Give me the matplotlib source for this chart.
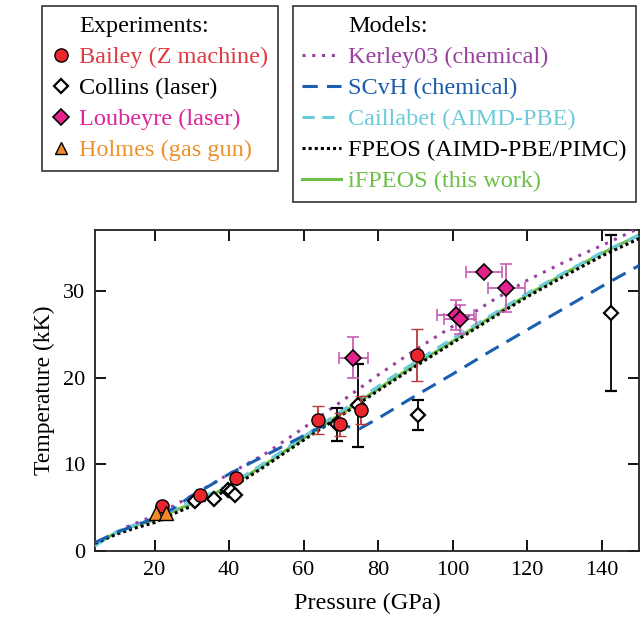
import matplotlib
matplotlib.use("Agg")
import matplotlib.pyplot as plt
from matplotlib.lines import Line2D

plt.rcParams['font.family'] = ['Liberation Serif', 'DejaVu Serif']
plt.rcParams['font.size'] = 16

# --- experimental Hugoniot data (pressure GPa, temperature kK) ---
bailey_P = [22.0, 32.3, 41.8, 63.8, 69.8, 75.3, 90.4]
bailey_T = [5.2, 6.5, 8.4, 15.1, 14.6, 16.3, 22.6]
bailey_Terr = [0.0, 0.0, 0.0, 1.6, 1.3, 1.6, 3.0]

collins_P = [30.9, 36.0, 39.6, 40.5, 41.7, 69.0, 74.6, 90.6, 142.6]
collins_T = [5.8, 6.0, 7.0, 6.9, 6.5, 14.6, 16.8, 15.7, 27.4]
collins_Terr = [0.0, 0.0, 0.0, 0.0, 0.0, 1.9, 4.8, 1.7, 9.0]

loubeyre_P = [73.3, 100.8, 101.9, 108.4, 114.4]
loubeyre_T = [22.3, 27.2, 26.7, 32.1, 30.3]
loubeyre_Perr = [3.9, 5.0, 4.3, 4.8, 5.0]
loubeyre_Terr = [2.4, 1.7, 1.7, 0.0, 2.8]

holmes_P = [20.4, 23.1]
holmes_T = [4.4, 4.4]

# --- model Hugoniot curves ---
grid_P = [4, 10, 15, 20, 25, 30, 40, 50, 60, 70, 80, 90, 100, 110, 120, 130, 140, 150]
fpeos_T = [0.9, 2.0, 2.7, 3.3, 4.3, 5.2, 7.1, 9.9, 12.8, 15.6, 18.5, 21.3, 24.0, 26.7, 29.3, 31.7, 34.0, 36.0]
ifpeos_T = [0.8, 2.2, 3.0, 3.6, 4.6, 5.5, 7.4, 10.1, 13.0, 15.8, 18.7, 21.5, 24.2, 26.9, 29.5, 32.0, 34.3, 36.4]
caillabet_T = [0.6, 2.3, 3.1, 3.8, 4.8, 5.7, 7.6, 10.3, 13.2, 16.1, 19.0, 21.8, 24.5, 27.1, 29.7, 32.1, 34.4, 36.4]

kerley_P = [12.5, 20, 25, 30, 40, 50, 60, 70, 80, 90, 100, 110, 120, 130, 140, 150]
kerley_T = [2.8, 4.1, 5.2, 6.4, 8.9, 11.3, 14.2, 17.2, 20.3, 23.2, 25.9, 28.7, 31.2, 33.3, 35.2, 37.2]

scvh_P = [4, 10, 20, 25, 30, 35, 40, 45, 50, 55, 60, 65, 70, 75, 80, 90, 100, 110, 120, 130, 140, 150]
scvh_T = [1.0, 2.2, 3.8, 4.9, 6.4, 7.6, 8.9, 10.0, 11.1, 12.2, 13.3, 14.4, 14.5, 14.1, 15.3, 17.9, 20.4, 23.0, 25.5, 28.0, 30.5, 32.9]

c_bailey = '#e8262b'
c_collins = 'black'
c_loubeyre = '#e5238f'
c_holmes = '#f18b27'
c_kerley = '#9a40a0'
c_scvh = '#1a5fb0'
c_caill = '#6ccbdb'
c_fpeos = 'black'
c_ifpeos = '#6cbf47'

fig = plt.figure(figsize=(6.41, 6.18), dpi=100)
ax = fig.add_axes([0.148, 0.108, 0.849, 0.52])

l_if, = ax.plot(grid_P, ifpeos_T, color=c_ifpeos, lw=2.2, zorder=2)
l_ca, = ax.plot(grid_P, caillabet_T, color=c_caill, lw=2.2, dashes=(4, 2.5), zorder=3)
l_fp, = ax.plot(grid_P, fpeos_T, color=c_fpeos, lw=2.2, dashes=(1, 1), zorder=4)
l_ke, = ax.plot(kerley_P, kerley_T, color=c_kerley, lw=2.2, dashes=(1, 2.2), zorder=4)
l_sc, = ax.plot(scvh_P, scvh_T, color=c_scvh, lw=2.2, dashes=(5, 3), zorder=4)

ax.errorbar(collins_P, collins_T, yerr=collins_Terr, fmt='D', ms=7.5, mfc='white', mec='black',
            mew=1.6, ecolor='black', elinewidth=1.3, capsize=4, capthick=1.3, zorder=6)
ax.errorbar(bailey_P, bailey_T, yerr=bailey_Terr, fmt='o', ms=9.5, mfc=c_bailey, mec='black',
            mew=1.0, ecolor='#b83a3a', elinewidth=1.3, capsize=4, capthick=1.3, zorder=7)
ax.errorbar(loubeyre_P, loubeyre_T, xerr=loubeyre_Perr, yerr=loubeyre_Terr, fmt='D', ms=8,
            mfc=c_loubeyre, mec='black', mew=1.2, ecolor='#c860b4', elinewidth=1.3,
            capsize=4, capthick=1.3, zorder=7)
ax.plot(holmes_P, holmes_T, '^', ms=10, mfc=c_holmes, mec='black', mew=1.0, ls='none', zorder=8)

ax.set_xlim(4, 150)
ax.set_ylim(0, 37)
ax.set_xticks([20, 40, 60, 80, 100, 120, 140])
ax.set_yticks([0, 10, 20, 30])
ax.tick_params(direction='in', length=8, width=1.3, top=True, right=True, pad=7)
for s in ax.spines.values():
    s.set_linewidth(1.3)
    s.set_color('#222222')
ax.set_xlabel('Pressure (GPa)', fontsize=17.5, labelpad=9)
ax.set_ylabel('Temperature (kK)', fontsize=17, labelpad=6)

# experiment legend
blank = Line2D([], [], ls='none')
exp_handles = [
    blank,
    Line2D([], [], ls='none', marker='o', ms=9.5, mfc=c_bailey, mec='black', mew=1.0),
    Line2D([], [], ls='none', marker='D', ms=7.5, mfc='white', mec='black', mew=1.6),
    Line2D([], [], ls='none', marker='D', ms=8, mfc=c_loubeyre, mec='black', mew=1.2),
    Line2D([], [], ls='none', marker='^', ms=9, mfc=c_holmes, mec='black', mew=1.0),
]
exp_labels = ['Experiments:', 'Bailey (Z machine)', 'Collins (laser)',
              'Loubeyre (laser)', 'Holmes (gas gun)']
exp_colors = ['black', '#e0393e', 'black', '#e0249a', '#f0922c']
leg1 = fig.legend(exp_handles, exp_labels, loc='upper left', fontsize=17.5,
                  bbox_to_anchor=(42 / 641, 1 - 6 / 618), frameon=True, fancybox=False,
                  edgecolor='black', handlelength=0.8, handletextpad=0.35,
                  labelspacing=0.37, borderpad=0.38, borderaxespad=0)
leg1.get_frame().set_linewidth(1.2)
for t, c in zip(leg1.get_texts(), exp_colors):
    t.set_color(c)

mod_handles = [blank, l_ke, l_sc, l_ca, l_fp, l_if]
mod_labels = ['Models:', 'Kerley03 (chemical)', 'SCvH (chemical)',
              'Caillabet (AIMD-PBE)', 'FPEOS (AIMD-PBE/PIMC)', 'iFPEOS (this work)']
mod_colors = ['black', '#9a40a0', '#1a5aa8', '#6ccbdb', 'black', '#6cbf47']
leg2 = fig.legend(mod_handles, mod_labels, loc='upper left', fontsize=17.5,
                  bbox_to_anchor=(293 / 641, 1 - 6 / 618), frameon=True, fancybox=False,
                  edgecolor='black', handlelength=1.6, handletextpad=0.3,
                  labelspacing=0.37, borderpad=0.38, borderaxespad=0)
leg2.get_frame().set_linewidth(1.2)
for t, c in zip(leg2.get_texts(), mod_colors):
    t.set_color(c)

fig.savefig('out.png', dpi=100)
